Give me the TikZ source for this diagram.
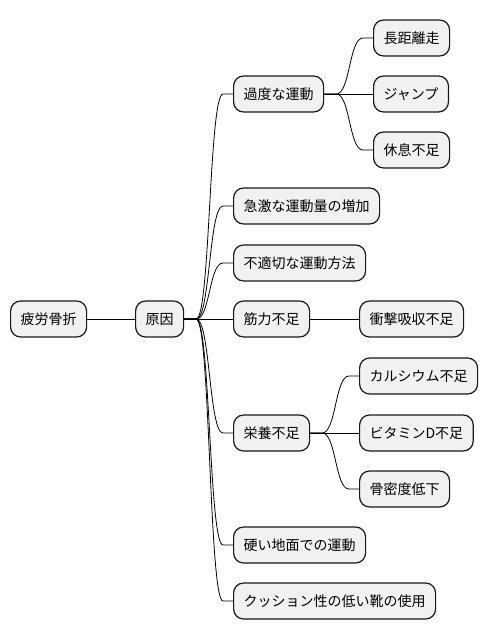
\documentclass[tikz,border=0pt]{standalone}
\usepackage{fontspec}
\setmainfont{Noto Sans CJK JP}
\definecolor{boxfill}{HTML}{F1F1F1}
\definecolor{boxline}{HTML}{181818}
\tikzset{
	topic/.style={draw=boxline, line width=1.2pt, fill=boxfill, rounded corners=10pt,
		minimum height=36pt, inner xsep=10pt, inner ysep=0pt, anchor=west,
		text height=12pt, text depth=2pt, font=\fontsize{14}{17}\selectfont},
	branch/.style={line width=0.8pt, black}
}
\begin{document}
\begin{tikzpicture}[x=1pt,y=1pt]
		%%Location
		\useasboundingbox (0,0) rectangle (488,-640);
		%%Root and main topic
		\node[topic] (root) at (10,-319) {疲労骨折};
		\node[topic] (cause) at (135,-319) {原因};
		%%Causes
		\node[topic] (sport) at (233,-94) {過度な運動};
		\node[topic] (rapid) at (233,-206) {急激な運動量の増加};
		\node[topic] (method) at (233,-263) {不適切な運動方法};
		\node[topic] (muscle) at (233,-319) {筋力不足};
		\node[topic] (food) at (233,-433) {栄養不足};
		\node[topic] (ground) at (233,-545) {硬い地面での運動};
		\node[topic] (shoes) at (233,-601) {クッション性の低い靴の使用};
		%%Details
		\node[topic] (run) at (373,-38) {長距離走};
		\node[topic] (jump) at (373,-94) {ジャンプ};
		\node[topic] (rest) at (373,-150) {休息不足};
		\node[topic] (shock) at (359,-319) {衝撃吸収不足};
		\node[topic] (calcium) at (359,-376) {カルシウム不足};
		\node[topic] (vitd) at (359,-433) {ビタミンD不足};
		\node[topic] (bone) at (359,-489) {骨密度低下};
		
		%%Branches
		\draw[branch] (root) -- (cause);
		\draw[branch] (cause.east) -- ++(12,0) .. controls +(14,0) and +(-14,0) .. ([xshift=-10pt]sport.west) -- (sport.west);
		\draw[branch] (cause.east) -- ++(12,0) .. controls +(14,0) and +(-14,0) .. ([xshift=-10pt]rapid.west) -- (rapid.west);
		\draw[branch] (cause.east) -- ++(12,0) .. controls +(14,0) and +(-14,0) .. ([xshift=-10pt]method.west) -- (method.west);
		\draw[branch] (cause) -- (muscle);
		\draw[branch] (cause.east) -- ++(12,0) .. controls +(14,0) and +(-14,0) .. ([xshift=-10pt]food.west) -- (food.west);
		\draw[branch] (cause.east) -- ++(12,0) .. controls +(14,0) and +(-14,0) .. ([xshift=-10pt]ground.west) -- (ground.west);
		\draw[branch] (cause.east) -- ++(12,0) .. controls +(14,0) and +(-14,0) .. ([xshift=-10pt]shoes.west) -- (shoes.west);
		
		\draw[branch] (sport.east) -- ++(12,0) .. controls +(14,0) and +(-14,0) .. ([xshift=-10pt]run.west) -- (run.west);
		\draw[branch] (sport) -- (jump);
		\draw[branch] (sport.east) -- ++(12,0) .. controls +(14,0) and +(-14,0) .. ([xshift=-10pt]rest.west) -- (rest.west);
		\draw[branch] (muscle) -- (shock);
		\draw[branch] (food.east) -- ++(12,0) .. controls +(14,0) and +(-14,0) .. ([xshift=-10pt]calcium.west) -- (calcium.west);
		\draw[branch] (food) -- (vitd);
		\draw[branch] (food.east) -- ++(12,0) .. controls +(14,0) and +(-14,0) .. ([xshift=-10pt]bone.west) -- (bone.west);
\end{tikzpicture}
\end{document}
